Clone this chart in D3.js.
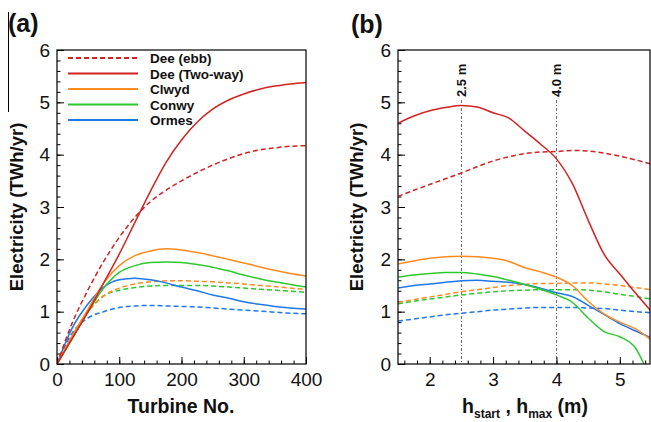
<!DOCTYPE html>
<html>
<head>
<meta charset="utf-8">
<script src="https://cdn.jsdelivr.net/npm/d3@7/dist/d3.min.js"></script>
<style>
body { margin: 0; background: #fff; }
svg { display: block; font-family: "Liberation Sans", Arial, sans-serif; }
</style>
</head>
<body>
<svg id="chart" width="651" height="422"></svg>
<script>
// panel (a): energy vs number of turbines
var turbines = [0, 25, 50, 75, 100, 125, 150, 175, 200, 225, 250, 275, 300, 325, 350, 375, 400];
var deeTwoA   = [0, 0.50, 1.00, 1.55, 2.10, 2.70, 3.30, 3.85, 4.28, 4.62, 4.87, 5.04, 5.16, 5.25, 5.31, 5.35, 5.38];
var deeEbbA   = [0, 0.80, 1.42, 1.96, 2.42, 2.80, 3.10, 3.32, 3.50, 3.66, 3.80, 3.92, 4.02, 4.09, 4.13, 4.16, 4.17];
var clwydA    = [0, 0.55, 1.05, 1.55, 1.88, 2.07, 2.16, 2.20, 2.18, 2.13, 2.07, 2.00, 1.93, 1.86, 1.79, 1.73, 1.68];
var conwyA    = [0, 0.50, 1.00, 1.45, 1.75, 1.88, 1.94, 1.95, 1.94, 1.90, 1.85, 1.78, 1.70, 1.63, 1.57, 1.52, 1.47];
var ormesA    = [0, 0.70, 1.15, 1.47, 1.61, 1.64, 1.61, 1.55, 1.47, 1.40, 1.32, 1.26, 1.19, 1.14, 1.10, 1.07, 1.05];
var clwydEbbA = [0, 0.55, 1.00, 1.30, 1.45, 1.53, 1.57, 1.59, 1.59, 1.58, 1.57, 1.55, 1.53, 1.50, 1.48, 1.45, 1.43];
var conwyEbbA = [0, 0.50, 1.00, 1.30, 1.41, 1.46, 1.49, 1.50, 1.50, 1.50, 1.49, 1.47, 1.45, 1.43, 1.41, 1.39, 1.37];
var ormesEbbA = [0, 0.60, 0.88, 1.00, 1.08, 1.11, 1.12, 1.11, 1.10, 1.09, 1.07, 1.05, 1.03, 1.01, 0.99, 0.97, 0.96];

// panel (b): energy vs h_start / h_max
var hB = [1.5, 1.75, 2, 2.25, 2.5, 2.75, 3, 3.25, 3.5, 3.75, 4, 4.25, 4.5, 4.75, 5, 5.25, 5.5];
var hConwyB = [1.5, 1.75, 2, 2.25, 2.5, 2.75, 3, 3.25, 3.5, 3.75, 4, 4.25, 4.5, 4.75, 5, 5.25, 5.38];
var deeTwoB   = [4.60, 4.74, 4.84, 4.90, 4.94, 4.91, 4.80, 4.70, 4.45, 4.20, 3.92, 3.45, 2.75, 2.10, 1.72, 1.35, 1.00];
var deeEbbB   = [3.20, 3.32, 3.43, 3.54, 3.65, 3.77, 3.88, 3.96, 4.02, 4.05, 4.06, 4.08, 4.07, 4.03, 3.97, 3.90, 3.82];
var clwydB    = [1.91, 1.97, 2.02, 2.05, 2.06, 2.05, 2.02, 1.96, 1.84, 1.76, 1.66, 1.50, 1.20, 0.96, 0.80, 0.67, 0.45];
var conwyB    = [1.66, 1.70, 1.73, 1.75, 1.75, 1.72, 1.67, 1.60, 1.52, 1.43, 1.32, 1.18, 0.88, 0.62, 0.52, 0.30, 0.00];
var ormesB    = [1.45, 1.50, 1.53, 1.56, 1.59, 1.60, 1.58, 1.56, 1.52, 1.45, 1.36, 1.29, 1.12, 0.95, 0.77, 0.63, 0.50];
var clwydEbbB = [1.18, 1.23, 1.28, 1.33, 1.38, 1.42, 1.46, 1.50, 1.52, 1.54, 1.54, 1.55, 1.55, 1.53, 1.50, 1.46, 1.42];
var conwyEbbB = [1.15, 1.20, 1.24, 1.28, 1.32, 1.35, 1.38, 1.40, 1.41, 1.42, 1.42, 1.42, 1.41, 1.38, 1.33, 1.29, 1.24];
var ormesEbbB = [0.82, 0.86, 0.90, 0.94, 0.97, 1.00, 1.03, 1.05, 1.07, 1.08, 1.08, 1.08, 1.07, 1.06, 1.03, 1.00, 0.98];

var refLines = [2.5, 4.0];
var refLabels = ['2.5 m', '4.0 m'];
var legendNames = ['Dee (ebb)', 'Dee (Two-way)', 'Clwyd', 'Conwy', 'Ormes'];

var col = { red: '#d22222', orange: '#ff8a1e', green: '#2ec82e', blue: '#1f78e8' };
var legendColors = [col.red, col.red, col.orange, col.green, col.blue];
var legendDash = [true, false, false, false, false];

var svg = d3.select('#chart');
var top0 = 50, bot0 = 364;

var y = d3.scaleLinear().domain([0, 6]).range([bot0, top0]);
var xa = d3.scaleLinear().domain([0, 400]).range([57, 306]);
var xb = d3.scaleLinear().domain([1.5, 5.5]).range([398, 651.5]);

function drawAxes(x, left, right, xMajor, xMinor, clipId) {
    var gx = svg.append('g').attr('transform', 'translate(0,' + bot0 + ')');
    gx.call(d3.axisBottom(x).tickValues(xMinor).tickSize(-3.5).tickFormat(''));
    var gx2 = svg.append('g').attr('transform', 'translate(0,' + bot0 + ')');
    gx2.call(d3.axisBottom(x).tickValues(xMajor).tickSize(-7).tickPadding(14).tickFormat(d3.format('d')));
    var gy = svg.append('g').attr('transform', 'translate(' + left + ',0)');
    gy.call(d3.axisLeft(y).tickValues(d3.range(0, 6.01, 0.2)).tickSize(-3.5).tickFormat(''));
    var gy2 = svg.append('g').attr('transform', 'translate(' + left + ',0)');
    gy2.call(d3.axisLeft(y).tickValues([0, 1, 2, 3, 4, 5, 6]).tickSize(-7).tickPadding(14).tickFormat(d3.format('d')));
    [gx, gx2, gy, gy2].forEach(function(g) {
        g.select('.domain').remove();
        g.selectAll('line').attr('stroke', '#000').attr('stroke-width', 1);
        g.selectAll('text').attr('font-size', 19).attr('fill', '#111')
            .style('font-family', '"Liberation Sans", Arial, sans-serif');
    });
    gx2.selectAll('text').attr('dy', '0.71em').attr('y', 9);
    gy2.selectAll('text').attr('x', -7);

    svg.append('clipPath').attr('id', clipId).append('rect')
        .attr('x', left).attr('y', top0).attr('width', right - left).attr('height', bot0 - top0);
}

drawAxes(xa, 57, 306, [0, 100, 200, 300, 400], d3.range(0, 401, 20), 'clipA');
drawAxes(xb, 398, 650, [2, 3, 4, 5], d3.range(1.6, 5.5, 0.2), 'clipB');

// reference lines in (b)
refLines.forEach(function(h, i) {
    svg.append('line')
        .attr('x1', xb(h)).attr('x2', xb(h)).attr('y1', 100).attr('y2', bot0)
        .attr('stroke', '#444').attr('stroke-width', 0.8).attr('stroke-dasharray', '3,2,1,2');
    svg.append('text')
        .attr('transform', 'translate(' + (xb(h) + 4.5) + ',97) rotate(-90)')
        .attr('font-size', 13).attr('font-weight', 'bold').attr('fill', '#111')
        .text(refLabels[i]);
});

function drawSeries(x, xs, ys, color, dashed, clipId) {
    var line = d3.line()
        .x(function(d, i) { return x(xs[i]); })
        .y(function(d) { return y(d); })
        .curve(d3.curveMonotoneX);
    svg.append('path')
        .datum(ys)
        .attr('clip-path', 'url(#' + clipId + ')')
        .attr('fill', 'none')
        .attr('stroke', color)
        .attr('stroke-width', 1.5)
        .attr('stroke-dasharray', dashed ? '5,3' : null)
        .attr('d', line);
}

drawSeries(xa, turbines, ormesEbbA, col.blue, true, 'clipA');
drawSeries(xa, turbines, conwyEbbA, col.green, true, 'clipA');
drawSeries(xa, turbines, clwydEbbA, col.orange, true, 'clipA');
drawSeries(xa, turbines, ormesA, col.blue, false, 'clipA');
drawSeries(xa, turbines, conwyA, col.green, false, 'clipA');
drawSeries(xa, turbines, clwydA, col.orange, false, 'clipA');
drawSeries(xa, turbines, deeEbbA, col.red, true, 'clipA');
drawSeries(xa, turbines, deeTwoA, col.red, false, 'clipA');

drawSeries(xb, hB, ormesEbbB, col.blue, true, 'clipB');
drawSeries(xb, hB, conwyEbbB, col.green, true, 'clipB');
drawSeries(xb, hB, clwydEbbB, col.orange, true, 'clipB');
drawSeries(xb, hB, ormesB, col.blue, false, 'clipB');
drawSeries(xb, hConwyB, conwyB, col.green, false, 'clipB');
drawSeries(xb, hB, clwydB, col.orange, false, 'clipB');
drawSeries(xb, hB, deeEbbB, col.red, true, 'clipB');
drawSeries(xb, hB, deeTwoB, col.red, false, 'clipB');

// frames
svg.append('rect').attr('x', 57).attr('y', top0).attr('width', 306 - 57).attr('height', bot0 - top0)
    .attr('fill', 'none').attr('stroke', '#000').attr('stroke-width', 1.2);
svg.append('rect').attr('x', 398).attr('y', top0).attr('width', 650 - 398).attr('height', bot0 - top0)
    .attr('fill', 'none').attr('stroke', '#000').attr('stroke-width', 1.2);

// legend
var lg = svg.append('g');
legendNames.forEach(function(name, i) {
    var ly = 58 + i * 15.5;
    lg.append('line').attr('x1', 68).attr('x2', 138).attr('y1', ly).attr('y2', ly)
        .attr('stroke', legendColors[i]).attr('stroke-width', 1.8)
        .attr('stroke-dasharray', legendDash[i] ? '5,3' : null);
    lg.append('text').attr('x', 150).attr('y', ly + 5)
        .attr('font-size', 13.5).attr('font-weight', 'bold').attr('fill', '#111').text(name);
});

// axis titles
function yTitle(cx) {
    svg.append('text')
        .attr('transform', 'translate(' + cx + ',' + ((top0 + bot0) / 2) + ') rotate(-90)')
        .attr('text-anchor', 'middle').attr('font-size', 18.5).attr('font-weight', 'bold')
        .attr('fill', '#111').text('Electricity (TWh/yr)');
}
yTitle(22.5);
yTitle(363);

svg.append('text').attr('x', 181).attr('y', 413).attr('text-anchor', 'middle')
    .attr('font-size', 19.5).attr('font-weight', 'bold').attr('fill', '#111').text('Turbine No.');

var xt = svg.append('text').attr('x', 525).attr('y', 413).attr('text-anchor', 'middle')
    .attr('font-weight', 'bold').attr('fill', '#111').attr('font-size', 19.5);
xt.append('tspan').text('h');
xt.append('tspan').attr('font-size', 12).attr('dy', 5).text('start');
xt.append('tspan').attr('dy', -5).text(' , h');
xt.append('tspan').attr('font-size', 12).attr('dy', 5).text('max');
xt.append('tspan').attr('dy', -5).text(' (m)');

// panel labels
svg.append('text').attr('x', 8).attr('y', 32).attr('font-size', 25).attr('font-weight', 'bold')
    .attr('fill', '#111').text('(a)');
svg.append('text').attr('x', 351).attr('y', 33).attr('font-size', 25).attr('font-weight', 'bold')
    .attr('fill', '#111').text('(b)');
svg.append('line').attr('x1', 8.5).attr('x2', 8.5).attr('y1', 12).attr('y2', 112)
    .attr('stroke', '#000').attr('stroke-width', 1);
</script>
</body>
</html>
